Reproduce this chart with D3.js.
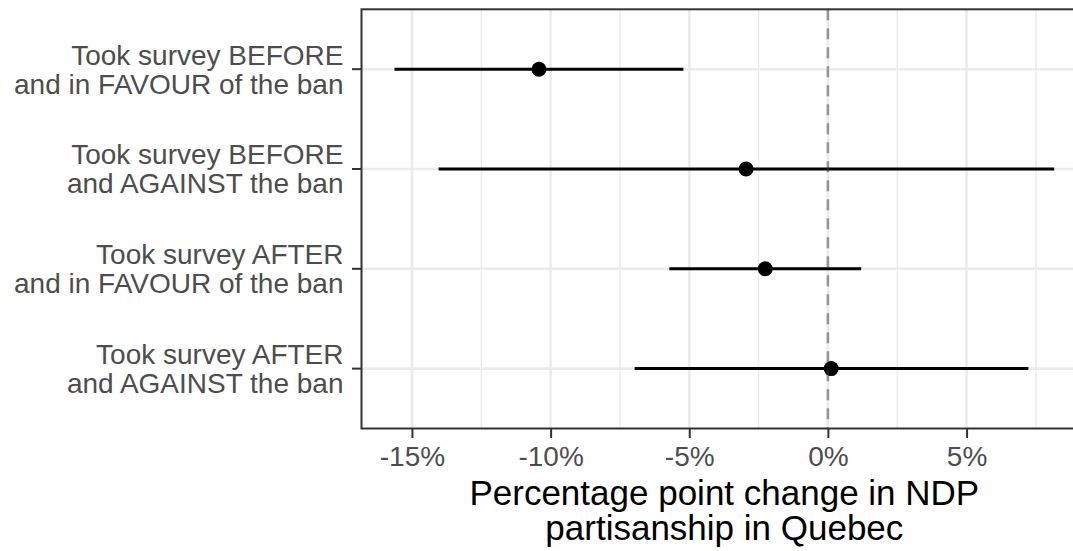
<!DOCTYPE html>
<html>
<head>
<meta charset="utf-8">
<script src="https://cdn.jsdelivr.net/npm/d3@7"></script>
<style>
  body { margin: 0; background: #fff; }
  svg { display: block; font-family: "Liberation Sans", Arial, sans-serif; }
</style>
</head>
<body>
<svg id="chart" width="1073" height="551"></svg>
<script>
// groups, top to bottom (each label split in two lines)
var groups = [
  ["Took survey BEFORE", "and in FAVOUR of the ban"],
  ["Took survey BEFORE", "and AGAINST the ban"],
  ["Took survey AFTER", "and in FAVOUR of the ban"],
  ["Took survey AFTER", "and AGAINST the ban"]
];
var estimate = [-10.42, -2.95, -2.26, 0.12];
var lower = [-15.63, -14.04, -5.72, -6.97];
var upper = [-5.21, 8.16, 1.20, 7.23];
var xTicks = [-15, -10, -5, 0, 5];
var xMinor = [-12.5, -7.5, -2.5, 2.5, 7.5];
var xTitle = ["Percentage point change in NDP", "partisanship in Quebec"];

var svg = d3.select("#chart");
var panel = { left: 361.5, top: 9.3, bottom: 428.5 };

// ggplot style 5% expansion of the data range
var lo = d3.min(lower), hi = d3.max(upper);
var pad = (hi - lo) * 0.05;
var x = d3.scaleLinear()
  .domain([lo - pad, hi + pad])
  .range([panel.left, panel.left + (hi - lo + 2 * pad) * 27.73]);

var keys = groups.map(function(g, i){ return i; });
var y = d3.scalePoint().domain(keys).range([panel.top, panel.bottom]).padding(0.6);

var right = x.range()[1];

// minor + major grid
svg.selectAll(".minor").data(xMinor).enter().append("line")
  .attr("x1", function(d){ return x(d); }).attr("x2", function(d){ return x(d); })
  .attr("y1", panel.top).attr("y2", panel.bottom)
  .attr("stroke", "#ebebeb").attr("stroke-width", 1.4);
svg.selectAll(".major").data(xTicks).enter().append("line")
  .attr("x1", function(d){ return x(d); }).attr("x2", function(d){ return x(d); })
  .attr("y1", panel.top).attr("y2", panel.bottom)
  .attr("stroke", "#ebebeb").attr("stroke-width", 2.6);
svg.selectAll(".hgrid").data(keys).enter().append("line")
  .attr("x1", panel.left).attr("x2", right)
  .attr("y1", function(d){ return y(d); }).attr("y2", function(d){ return y(d); })
  .attr("stroke", "#ebebeb").attr("stroke-width", 2.6);

// confidence intervals and points
svg.selectAll(".ci").data(keys).enter().append("line")
  .attr("x1", function(d){ return x(lower[d]); }).attr("x2", function(d){ return x(upper[d]); })
  .attr("y1", function(d){ return y(d); }).attr("y2", function(d){ return y(d); })
  .attr("stroke", "#000").attr("stroke-width", 3);
svg.selectAll(".pt").data(keys).enter().append("circle")
  .attr("cx", function(d){ return x(estimate[d]); })
  .attr("cy", function(d){ return y(d); })
  .attr("r", 7.5).attr("fill", "#000");

// zero reference line
svg.append("line")
  .attr("x1", x(0)).attr("x2", x(0))
  .attr("y1", panel.top).attr("y2", panel.bottom)
  .attr("stroke", "#404040").attr("stroke-opacity", 0.5)
  .attr("stroke-width", 2.6).attr("stroke-dasharray", "11,8");

// panel border
svg.append("rect")
  .attr("x", panel.left).attr("y", panel.top)
  .attr("width", right - panel.left).attr("height", panel.bottom - panel.top)
  .attr("fill", "none").attr("stroke", "#333").attr("stroke-width", 2);

// x axis
var xAxis = d3.axisBottom(x).tickValues(xTicks).tickSizeOuter(0).tickSize(9.5).tickPadding(8)
  .tickFormat(function(d){ return d + "%"; });
var gx = svg.append("g").attr("transform", "translate(0," + panel.bottom + ")").call(xAxis);
gx.select(".domain").remove();
gx.selectAll(".tick line").attr("stroke", "#333").attr("stroke-width", 2);
gx.selectAll(".tick text").attr("fill", "#4d4d4d").style("font-size", "28px")
  .attr("dy", "0.71em");

// y axis ticks + two-line labels
var gy = svg.append("g");
gy.selectAll(".yt").data(keys).enter().append("line")
  .attr("x1", panel.left - 9.5).attr("x2", panel.left)
  .attr("y1", function(d){ return y(d); }).attr("y2", function(d){ return y(d); })
  .attr("stroke", "#333").attr("stroke-width", 2);
var lab = gy.selectAll(".yl").data(keys).enter().append("text")
  .attr("text-anchor", "end").attr("fill", "#4d4d4d").style("font-size", "28px");
lab.append("tspan").attr("x", 343.5).attr("y", function(d){ return y(d) - 4.5; })
  .text(function(d){ return groups[d][0]; });
lab.append("tspan").attr("x", 343.5).attr("y", function(d){ return y(d) + 24.5; })
  .text(function(d){ return groups[d][1]; });

// axis title
var cx = (panel.left + right) / 2;
svg.append("text").attr("text-anchor", "middle").attr("fill", "#000").style("font-size", "35px")
  .selectAll("tspan").data(xTitle).enter().append("tspan")
  .attr("x", cx).attr("y", function(d, i){ return 505 + i * 35; })
  .text(function(d){ return d; });
</script>
</body>
</html>
